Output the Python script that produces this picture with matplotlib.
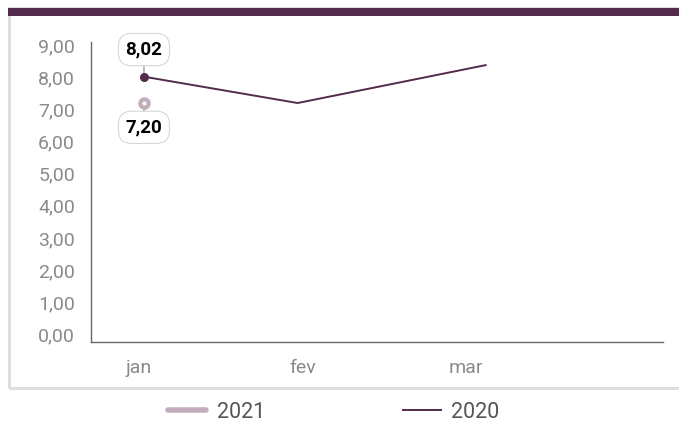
import matplotlib.pyplot as plt
from matplotlib.lines import Line2D
from matplotlib.patches import Rectangle

# data
months = ["jan", "fev", "mar"]
x_2020 = [0.03, 0.97, 2.12]
v_2020 = [8.02, 7.20, 8.38]
x_2021 = [0.03]
v_2021 = [7.20]
yticks = [0, 1, 2, 3, 4, 5, 6, 7, 8, 9]

c2020 = "#522b4d"
c2021 = "#c2adbd"
plt.rcParams["font.family"] = ["Roboto", "DejaVu Sans"]

fig = plt.figure(figsize=(6.79, 4.37), dpi=100)

# panel frame and top band
fig.patches.append(Rectangle((9 / 679, 49 / 437), 1.0, 380 / 437, transform=fig.transFigure,
                             facecolor="none", edgecolor="#dddddd", lw=2.2, zorder=0))
fig.patches.append(Rectangle((8 / 679, 421 / 437), 1.0, 8 / 437, transform=fig.transFigure,
                             facecolor=c2020, edgecolor="none", zorder=1))

ax = fig.add_axes([91 / 679, 95 / 437, 572 / 679, 300 / 437])
ax.set_xlim(-0.294, 3.205)
ax.set_ylim(-0.24, 9.1)

ax.plot(x_2020, v_2020, color=c2020, lw=1.4, zorder=3)
ax.plot(x_2020[:1], v_2020[:1], "o", color=c2020, ms=5.5, zorder=4)
ax.plot(x_2021, v_2021, "o", mfc="white", mec=c2021, mew=3.0, ms=6, zorder=4)

box = dict(boxstyle="round,pad=0.38,rounding_size=0.7", fc="white", ec="#d6d6d6", lw=0.8)
ax.annotate(f"{v_2020[0]:.2f}".replace(".", ","), xy=(x_2020[0], v_2020[0]), xytext=(0, 19.5),
            textcoords="offset points", ha="center", va="center", fontsize=13.5,
            fontweight="bold", color="black", bbox=box,
            arrowprops=dict(arrowstyle="-", color="#888888", lw=0.8, shrinkA=0, shrinkB=2))
ax.annotate(f"{v_2021[0]:.2f}".replace(".", ","), xy=(x_2021[0], v_2021[0]), xytext=(0, -17.5),
            textcoords="offset points", ha="center", va="center", fontsize=13.5,
            fontweight="bold", color="black", bbox=box,
            arrowprops=dict(arrowstyle="-", color="#888888", lw=0.8, shrinkA=0, shrinkB=4))

ax.set_yticks(yticks)
ax.set_yticklabels([f"{v:.2f}".replace(".", ",") for v in yticks])
ax.set_xticks(range(len(months)))
ax.set_xticklabels(months)
ax.tick_params(axis="y", length=0, pad=11.5, labelsize=14, labelcolor="#8a8a8a")
ax.tick_params(axis="x", length=0, pad=12, labelsize=14, labelcolor="#8a8a8a")

for s in ["top", "right"]:
    ax.spines[s].set_visible(False)
for s in ["left", "bottom"]:
    ax.spines[s].set_color("#666666")
    ax.spines[s].set_linewidth(1.0)

handles = [Line2D([], [], color=c2021, lw=4, solid_capstyle="round"),
           Line2D([], [], color=c2020, lw=1.4)]
fig.legend(handles, ["2021", "2020"], loc="center", bbox_to_anchor=(334 / 679, 25 / 437),
           ncol=2, frameon=False, fontsize=15.5, labelcolor="#555555",
           handlelength=1.75, handletextpad=0.5, columnspacing=6.4)

fig.savefig("out.png", dpi=100, facecolor="white")
